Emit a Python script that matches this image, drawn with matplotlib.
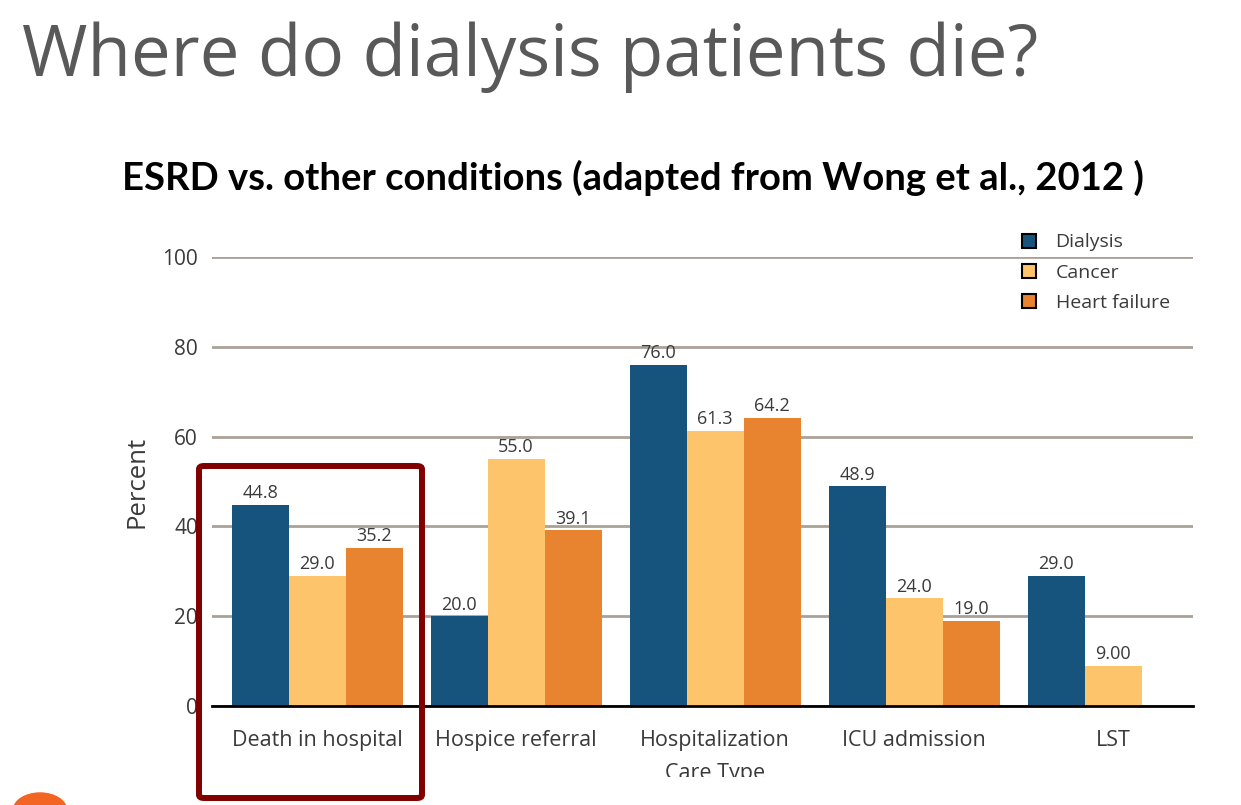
import numpy as np
import matplotlib
matplotlib.use("Agg")
import matplotlib.pyplot as plt
from matplotlib.patches import FancyBboxPatch, Circle
from matplotlib.transforms import Bbox

# chart data
care_types = ["Death in hospital", "Hospice referral", "Hospitalization", "ICU admission", "LST"]
dialysis = [44.8, 20.0, 76.0, 48.9, 29.0]
cancer = [29.0, 55.0, 61.3, 24.0, 9.00]
heart_failure = [35.2, 39.1, 64.2, 19.0, np.nan]
series_names = ["Dialysis", "Cancer", "Heart failure"]
y_ticks = [0, 20, 40, 60, 80, 100]

colors = ["#16547e", "#fdc46c", "#e8832f"]
grid_color = "#aaa197"
text_grey = "#3a3a3a"

W, H = 1241, 805
plt.rcParams['font.family'] = ['Open Sans', 'DejaVu Sans']


def fx(px):
    return px / W


def fy(py):
    return 1 - py / H


fig = plt.figure(figsize=(W / 100, H / 100), dpi=100)
ax = fig.add_axes([fx(212), fy(706), (1193 - 212) / W, (706 - 257) / H])

x = np.arange(len(care_types))
bw = 0.2864
for k, (vals, name) in enumerate(zip([dialysis, cancer, heart_failure], series_names)):
    pos = x + (k - 1) * bw
    bars = ax.bar(pos, vals, width=bw, color=colors[k], label=name, zorder=3, linewidth=0)
    for b, v in zip(bars, vals):
        if np.isnan(v):
            continue
        ax.text(b.get_x() + b.get_width() / 2, v + 0.6, f"{v:#.3g}", ha="center", va="bottom",
                fontsize=13, color=text_grey, zorder=4)

ax.set_xlim(-0.528, 4.402)
ax.set_ylim(0, 100)
ax.set_yticks(y_ticks)
ax.set_xticks(x)
ax.set_xticklabels(care_types)
ax.tick_params(axis="both", length=0, colors=text_grey)
ax.tick_params(axis="y", pad=10, labelsize=15)
ax.tick_params(axis="x", pad=17, labelsize=15.5)
ax.yaxis.grid(True, color=grid_color, linewidth=2, zorder=0)
ax.set_axisbelow(True)
for s in ["left", "right", "top"]:
    ax.spines[s].set_visible(False)
ax.spines["bottom"].set_color("black")
ax.spines["bottom"].set_linewidth(2)
ax.spines["bottom"].set_zorder(5)

# legend
leg = fig.legend(loc="upper left", bbox_to_anchor=(fx(1004), fy(216)), frameon=False,
                 fontsize=14, handlelength=0.75, handleheight=0.75, handletextpad=1.0,
                 labelspacing=0.62, labelcolor=text_grey)
for h in leg.legend_handles:
    h.set_edgecolor("black")
    h.set_linewidth(1.5)

fig.text(fx(137), fy(482), "Percent", rotation=90, ha="center", va="center",
         fontsize=18.5, color=text_grey)

# axis title, cut off by the bottom of the slide
xt = fig.text(fx(715), fy(763), "Care Type", ha="center", va="top", fontsize=15.5, color=text_grey)
xt.set_clip_box(Bbox.from_extents(0, H - 777, W, H))
xt.set_clip_on(True)

fig.text(fx(22), fy(76), "Where do dialysis patients die?", ha="left", va="baseline",
         fontsize=51, color="#595959")
fig.text(fx(633), fy(190), "ESRD vs. other conditions (adapted from Wong et al., 2012 )",
         ha="center", va="baseline", fontsize=27.5, fontweight="bold", color="black",
         family=["Lato", "DejaVu Sans"])

# highlight box
box = FancyBboxPatch((fx(199), fy(798)), fx(422) - fx(199), fy(466) - fy(798),
                     boxstyle="round,pad=0,rounding_size=0.004", transform=fig.transFigure,
                     facecolor="none", edgecolor="#800000", linewidth=4.3, zorder=10)
fig.add_artist(box)

fig.add_artist(Circle((fx(40), fy(810)), 0.022, transform=fig.transFigure,
                      facecolor="#f26522", edgecolor="none"))

fig.savefig("out.png", dpi=100)
